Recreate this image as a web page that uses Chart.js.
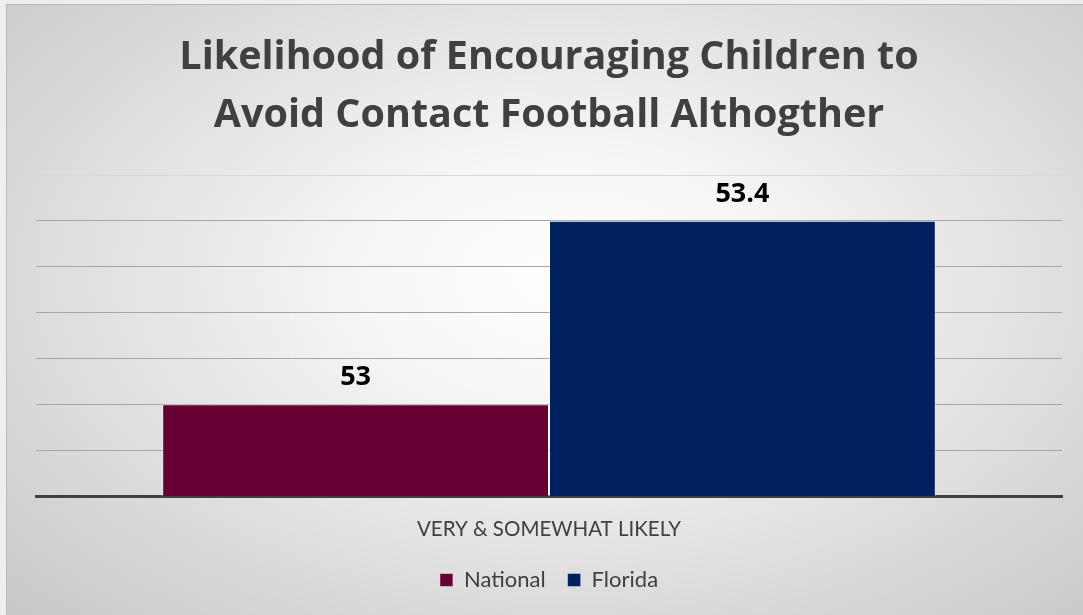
<!DOCTYPE html>
<html>
<head>
<meta charset="utf-8">
<script src="https://cdn.jsdelivr.net/npm/chart.js@4"></script>
<style>
    html, body { margin: 0; padding: 0; }
    body { width: 1083px; height: 615px; background: #eeeeee; position: relative; overflow: hidden; }
    #frame {
        position: absolute; left: 6px; top: 4px; right: 0; bottom: 0;
        border-left: 1px solid #b8b8b8; border-top: 1px solid #b8b8b8;
        background: radial-gradient(ellipse 75% 80% at 52% 45%, #ffffff 0%, #f6f6f6 25%, #e0e0e0 60%, #c6c6c6 100%);
    }
    #chartWrap { position: absolute; left: 0; top: 0; width: 1083px; height: 615px; }
</style>
</head>
<body>
<div id="frame"></div>
<div id="chartWrap"><canvas id="likelyChart" width="1083" height="615"></canvas></div>
<script>
const titleLines = ["Likelihood of Encouraging Children to", "Avoid Contact Football Althogther"];
const categories = ["VERY & SOMEWHAT LIKELY"];
const seriesNames = ["National", "Florida"];
const nationalValues = [53];
const floridaValues = [53.4];
const seriesColors = ["#660033", "#002060"];
const yMin = 52.8;
const yMax = 53.5;
const yStep = 0.1;

// value labels above each bar
const barValueLabels = {
    id: "barValueLabels",
    afterDatasetsDraw(chart) {
        const ctx = chart.ctx;
        ctx.save();
        ctx.font = "bold 27px 'Open Sans'";
        ctx.fillStyle = "#000000";
        ctx.textAlign = "center";
        ctx.textBaseline = "alphabetic";
        chart.data.datasets.forEach((ds, i) => {
            chart.getDatasetMeta(i).data.forEach((bar, j) => {
                ctx.fillText(String(ds.data[j]), bar.x, bar.y - 19);
            });
        });
        ctx.restore();
    }
};

new Chart(document.getElementById("likelyChart"), {
    type: "bar",
    data: {
        labels: categories,
        datasets: [{
            label: seriesNames[0],
            data: nationalValues,
            backgroundColor: seriesColors[0],
            borderColor: "rgba(255,255,255,0.45)",
            borderWidth: 1
        }, {
            label: seriesNames[1],
            data: floridaValues,
            backgroundColor: seriesColors[1],
            borderColor: "rgba(255,255,255,0.35)",
            borderWidth: 1
        }]
    },
    options: {
        responsive: false,
        animation: false,
        layout: { padding: { left: 36, right: 21, top: 0, bottom: 14 } },
        categoryPercentage: 0.754,
        barPercentage: 1,
        plugins: {
            title: {
                display: true,
                text: titleLines,
                color: "#404040",
                font: { family: "'Open Sans'", weight: "bold", size: 39.5, lineHeight: 58 / 39.5 },
                padding: { top: 29, bottom: 30 }
            },
            legend: {
                position: "bottom",
                labels: {
                    color: "#404040",
                    font: { family: "Lato", size: 22 },
                    boxWidth: 13,
                    boxHeight: 13,
                    padding: 22
                }
            },
            tooltip: { enabled: false }
        },
        scales: {
            x: {
                grid: { display: false, drawTicks: false },
                border: { color: "#404040", width: 3 },
                ticks: { color: "#404040", font: { family: "Lato", size: 20.5 }, padding: 21 },
                afterFit: s => { s.height = 51; }
            },
            y: {
                min: yMin,
                max: yMax,
                border: { display: false },
                ticks: { display: false, stepSize: yStep },
                grid: {
                    drawTicks: false,
                    color: c => (c.tick.value > yMax - 0.01 ? "#d8d8d8" : "#a6a6a6"),
                    lineWidth: 1
                },
                afterFit: s => { s.width = 0; }
            }
        }
    },
    plugins: [barValueLabels]
});
</script>
</body>
</html>
